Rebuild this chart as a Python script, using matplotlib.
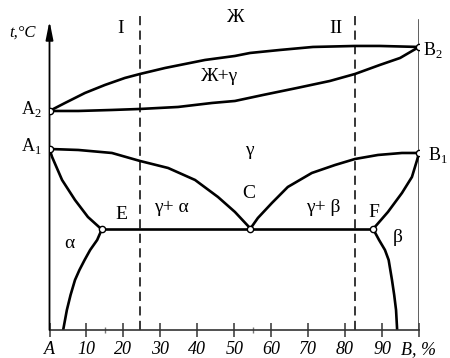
import matplotlib.pyplot as plt

# composition, % B  /  temperature (arbitrary units, the axis has no scale)
liquidus_x = [0, 4.2, 9.6, 15.0, 20.4, 24.5, 31.3, 36.7, 42.1, 50.2, 54.3,
              62.4, 71.3, 82.7, 89.4, 100]
liquidus_t = [219, 227, 237, 245, 252, 256, 262, 266, 270, 274, 277,
              280, 283, 284, 284, 283]

solidus_x = [0, 7.8, 16.9, 24.5, 34.8, 44.0, 50.2, 57.8, 67.0, 75.9, 82.7,
             89.4, 94.9, 100]
solidus_t = [219, 219, 220, 221, 223, 227, 229, 235, 242, 249, 256,
             265, 272, 283]

gamma_alpha_x = [0, 7.8, 16.9, 24.5, 32.1, 39.4, 45.6, 50.2, 54.0, 54.3]
gamma_alpha_t = [181, 180, 177, 169, 162, 150, 133, 118, 103, 101]

gamma_beta_x = [54.3, 56.4, 60.2, 64.5, 71.0, 77.3, 82.7, 88.9, 95.4, 100]
gamma_beta_t = [101, 112, 127, 143, 157, 165, 171, 175, 177, 177]

alpha_upper_x = [0, 0.7, 3.4, 6.9, 10.4, 13.7, 14.2]
alpha_upper_t = [181, 173, 150, 130, 113, 102, 101]
alpha_lower_x = [14.2, 12.9, 11.0, 9.5, 8.1, 6.9, 5.7, 4.7, 3.7]
alpha_lower_t = [101, 90, 80, 70, 60, 50, 35, 20, 0]

beta_upper_x = [87.6, 91.6, 95.4, 98.1, 99.5, 100]
beta_upper_t = [101, 118, 137, 153, 170, 177]
beta_lower_x = [87.6, 89.2, 90.8, 91.8, 92.7, 93.3, 93.8, 94.1]
beta_lower_t = [101, 90, 80, 70, 50, 35, 20, 0]

eutectic_x = [14.2, 87.6]
eutectic_t = [101, 101]

alloy_x = [24.5, 82.7]
alloy_names = ["I", "II"]

point_x = [0, 0, 100, 100, 14.2, 54.3, 87.6]
point_t = [219, 181, 283, 177, 101, 101, 101]

tick_values = [0, 10, 20, 30, 40, 50, 60, 70, 80, 90, 100]
tick_labels = ["A", "10", "20", "30", "40", "50", "60", "70", "80", "90", "B, %"]

SERIF = ["Liberation Serif", "DejaVu Serif"]


def main() -> None:
    plt.rcParams["mathtext.fontset"] = "custom"
    plt.rcParams["mathtext.rm"] = "Liberation Serif"

    fig = plt.figure(figsize=(4.5, 3.58), dpi=100)
    ax = fig.add_axes([0.11, 0.0782, 0.821, 0.894])
    ax.set_xlim(0, 100)
    ax.set_ylim(0, 320)

    for side in ["left", "right", "top"]:
        ax.spines[side].set_visible(False)
    ax.spines["bottom"].set_color("#333333")
    ax.spines["bottom"].set_linewidth(1.2)

    ax.set_yticks([])
    ax.set_xticks(tick_values)
    ax.set_xticklabels(tick_labels, fontfamily=SERIF, fontstyle="italic", fontsize=13)
    ax.tick_params(axis="x", direction="inout", length=10, width=1.1,
                   color="#333333", pad=3)
    ax.set_xticks([15, 55], minor=True)
    ax.tick_params(axis="x", which="minor", direction="inout", length=5,
                   width=1.0, color="#777777")

    # temperature axis with arrow, right boundary line
    ax.annotate("", xy=(0, 309), xytext=(0, 0),
                arrowprops=dict(arrowstyle="-|>,head_length=1.1,head_width=0.22",
                                lw=1.3, color="black", shrinkA=0, shrinkB=0))
    ax.plot([100, 100], [0, 310], color="#444444", lw=1.2)
    ax.text(-7.4, 297, "t,°C", fontfamily=SERIF, fontstyle="italic",
            fontsize=12, ha="center", va="center")

    curve_style = dict(color="black", lw=1.9, solid_capstyle="round",
                       solid_joinstyle="round")
    ax.plot(liquidus_x, liquidus_t, **curve_style)
    ax.plot(solidus_x, solidus_t, **curve_style)
    ax.plot(gamma_alpha_x, gamma_alpha_t, **curve_style)
    ax.plot(gamma_beta_x, gamma_beta_t, **curve_style)
    ax.plot(alpha_upper_x, alpha_upper_t, **curve_style)
    ax.plot(alpha_lower_x, alpha_lower_t, **curve_style)
    ax.plot(beta_upper_x, beta_upper_t, **curve_style)
    ax.plot(beta_lower_x, beta_lower_t, **curve_style)
    ax.plot(eutectic_x, eutectic_t, **curve_style)

    for x, name in zip(alloy_x, alloy_names):
        ax.plot([x, x], [0, 318], color="black", lw=1.1, dashes=(6, 3.5))
        ax.text(x - 5.3, 301, name, fontfamily=SERIF, fontsize=14,
                ha="center", va="center")

    ax.plot(point_x, point_t, "o", ms=4.5, mfc="white", mec="black",
            mew=1.0, ls="none", zorder=5)

    text_style = dict(fontfamily=SERIF, fontsize=14, ha="center", va="center")
    ax.text(50.5, 312, "Ж", **text_style)
    ax.text(46, 253, "Ж+γ", **text_style)
    ax.text(54, 179, "γ", **text_style)
    ax.text(54, 136, "C", **text_style)
    ax.text(33, 122, "γ+ α", **text_style)
    ax.text(74, 122, "γ+ β", **text_style)
    ax.text(19.4, 115, "E", **text_style)
    ax.text(87.8, 117, "F", **text_style)
    ax.text(5.3, 86, "α", **text_style)
    ax.text(94.3, 92, "β", **text_style)

    label_style = dict(fontfamily=SERIF, fontsize=13, va="center")
    ax.text(-2, 221, "A$_2$", ha="right", **label_style)
    ax.text(-2, 184, "A$_1$", ha="right", **label_style)
    ax.text(101, 280, "B$_2$", ha="left", **label_style)
    ax.text(102.5, 175, "B$_1$", ha="left", **label_style)

    fig.savefig("out.png", dpi=100)
    plt.close(fig)


if __name__ == "__main__":
    main()
